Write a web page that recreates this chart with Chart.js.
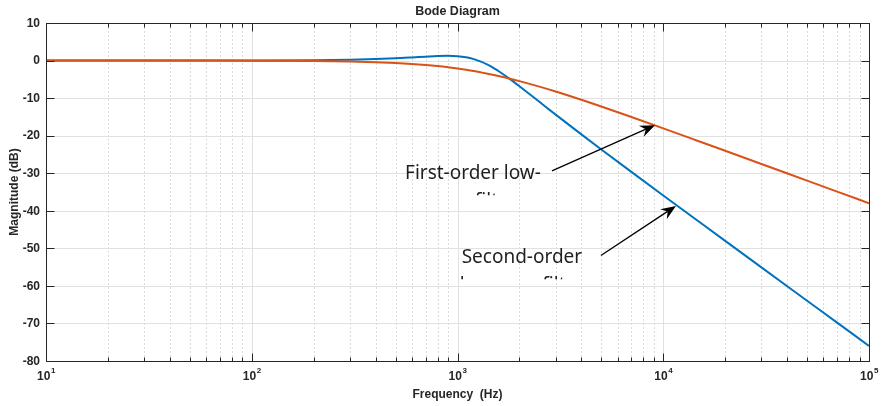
<!DOCTYPE html>
<html>
<head>
<meta charset="utf-8">
<title>Bode Diagram</title>
<script src="https://cdn.jsdelivr.net/npm/chart.js@4.4.1/dist/chart.umd.min.js"></script>
<style>
  html, body { margin: 0; padding: 0; background: #ffffff; }
  #wrap { width: 888px; height: 406px; }
</style>
</head>
<body>
<div id="wrap"><canvas id="bode" width="888" height="406"></canvas></div>
<script>
// Frequency samples (Hz) and magnitude responses (dB)
const freqHz = [10, 20, 50, 100, 200, 300, 400, 500, 600, 700, 800, 900, 1000, 1100, 1200,
  1300, 1400, 1500, 1600, 1800, 2000, 2500, 3000, 4000, 5000, 7000, 10000, 15000, 20000,
  30000, 50000, 70000, 100000];
const firstOrderDb = [0.00, 0.00, -0.01, -0.03, -0.11, -0.24, -0.42, -0.64, -0.89, -1.17,
  -1.47, -1.79, -2.12, -2.46, -2.80, -3.15, -3.49, -3.83, -4.17, -4.83, -5.47, -6.94,
  -8.24, -10.44, -12.24, -15.03, -18.06, -21.55, -24.03, -27.54, -31.98, -34.90, -37.99];
const secondOrderDb = [0.00, 0.00, 0.01, 0.03, 0.11, 0.24, 0.41, 0.62, 0.84, 1.04,
  1.20, 1.25, 1.15, 0.87, 0.38, -0.29, -1.11, -2.02, -2.98, -4.95, -6.84, -10.99,
  -14.39, -19.66, -23.68, -29.65, -35.92, -43.00, -48.01, -55.06, -63.94, -69.79, -75.99];

// Axis ticks
const yTickValues = [10, 0, -10, -20, -30, -40, -50, -60, -70, -80];
const xDecadeExponents = [1, 2, 3, 4, 5];
const minorMultipliers = [2, 3, 4, 5, 6, 7, 8, 9];

// Text callouts with arrows (anchor, tail and tip in data units: Hz, dB)
const calloutLines = [["First-order low-", "pass filter"], ["Second-order", "low-pass filter"]];
const calloutAnchorHz = [1189, 2056];
const calloutAnchorDb = [-31.6, -54.0];
const arrowTailHz = [2877, 4977];
const arrowTailDb = [-29.4, -51.9];
const arrowTipHz = [9120, 11530];
const arrowTipDb = [-17.2, -38.7];

const COLORS = {
  first: '#D95319',
  second: '#0072BD',
  axis: '#262626',
  majorGrid: '#e1e1e1',
  minorGrid: '#dadada',
  text: '#262626'
};
const AXIS_FONT = 'bold 12px "Liberation Sans", Arial, sans-serif';
const SUP_FONT = 'bold 8px "Liberation Sans", Arial, sans-serif';
const NOTE_FONT = '19px "Noto Sans", "Open Sans", sans-serif';

const crisp = v => Math.round(v) + 0.5;

const bodeFrame = {
  id: 'bodeFrame',
  beforeDatasetsDraw(chart) {
    const { ctx, chartArea: a, scales: { x, y } } = chart;
    ctx.save();
    ctx.lineWidth = 1;
    // minor vertical grid (dotted)
    ctx.strokeStyle = COLORS.minorGrid;
    ctx.setLineDash([2, 2]);
    xDecadeExponents.slice(0, -1).forEach(e => {
      minorMultipliers.forEach(m => {
        const px = crisp(x.getPixelForValue(m * Math.pow(10, e)));
        ctx.beginPath(); ctx.moveTo(px, a.top); ctx.lineTo(px, a.bottom); ctx.stroke();
      });
    });
    // major grid (solid)
    ctx.setLineDash([]);
    ctx.strokeStyle = COLORS.majorGrid;
    xDecadeExponents.forEach(e => {
      const px = crisp(x.getPixelForValue(Math.pow(10, e)));
      ctx.beginPath(); ctx.moveTo(px, a.top); ctx.lineTo(px, a.bottom); ctx.stroke();
    });
    yTickValues.forEach(v => {
      const py = crisp(y.getPixelForValue(v));
      ctx.beginPath(); ctx.moveTo(a.left, py); ctx.lineTo(a.right, py); ctx.stroke();
    });
    ctx.restore();
  },
  afterDatasetsDraw(chart) {
    const { ctx, chartArea: a, scales: { x, y } } = chart;
    const L = crisp(a.left), R = crisp(a.right), T = crisp(a.top), B = crisp(a.bottom);
    ctx.save();
    ctx.lineWidth = 1;
    ctx.strokeStyle = COLORS.axis;
    ctx.strokeRect(L, T, R - L, B - T);

    // ticks (inward, both sides)
    const majorLen = 8, minorLen = 4;
    ctx.beginPath();
    yTickValues.forEach(v => {
      const py = crisp(y.getPixelForValue(v));
      ctx.moveTo(L, py); ctx.lineTo(L + majorLen, py);
      ctx.moveTo(R, py); ctx.lineTo(R - majorLen, py);
    });
    xDecadeExponents.forEach((e, i) => {
      const px = crisp(x.getPixelForValue(Math.pow(10, e)));
      ctx.moveTo(px, B); ctx.lineTo(px, B - majorLen);
      ctx.moveTo(px, T); ctx.lineTo(px, T + majorLen);
      if (i < xDecadeExponents.length - 1) {
        minorMultipliers.forEach(m => {
          const mx = crisp(x.getPixelForValue(m * Math.pow(10, e)));
          ctx.moveTo(mx, B); ctx.lineTo(mx, B - minorLen);
          ctx.moveTo(mx, T); ctx.lineTo(mx, T + minorLen);
        });
      }
    });
    ctx.stroke();

    // y tick labels
    ctx.fillStyle = COLORS.text;
    ctx.font = AXIS_FONT;
    ctx.textAlign = 'right';
    ctx.textBaseline = 'middle';
    yTickValues.forEach(v => {
      ctx.fillText(String(v), a.left - 6, y.getPixelForValue(v) + 0.5);
    });

    // x tick labels: 10 with superscript exponent
    ctx.textBaseline = 'alphabetic';
    ctx.textAlign = 'left';
    xDecadeExponents.forEach(e => {
      const px = x.getPixelForValue(Math.pow(10, e));
      ctx.font = AXIS_FONT;
      const wBase = ctx.measureText('10').width;
      ctx.font = SUP_FONT;
      const wSup = ctx.measureText(String(e)).width;
      const start = px - (wBase + wSup) / 2;
      ctx.font = AXIS_FONT;
      ctx.fillText('10', start, a.bottom + 19);
      ctx.font = SUP_FONT;
      ctx.fillText(String(e), start + wBase + 0.5, a.bottom + 12);
    });

    // titles
    const cx = (a.left + a.right) / 2;
    ctx.font = 'bold 12.5px "Liberation Sans", Arial, sans-serif';
    ctx.textAlign = 'center';
    ctx.fillText('Bode Diagram', cx, 15);
    ctx.font = AXIS_FONT;
    ctx.fillText('Frequency  (Hz)', cx, a.bottom + 37);
    ctx.save();
    ctx.translate(17.5, (a.top + a.bottom) / 2);
    ctx.rotate(-Math.PI / 2);
    ctx.fillText('Magnitude (dB)', 0, 0);
    ctx.restore();

    // callout arrows
    ctx.strokeStyle = '#000000';
    ctx.fillStyle = '#000000';
    ctx.lineWidth = 1.3;
    arrowTipHz.forEach((_, i) => {
      const x0 = x.getPixelForValue(arrowTailHz[i]), y0 = y.getPixelForValue(arrowTailDb[i]);
      const x1 = x.getPixelForValue(arrowTipHz[i]), y1 = y.getPixelForValue(arrowTipDb[i]);
      const ang = Math.atan2(y1 - y0, x1 - x0);
      const headLen = 15, headHalf = 6, notch = 10;
      ctx.beginPath();
      ctx.moveTo(x0, y0);
      ctx.lineTo(x1 - notch * Math.cos(ang), y1 - notch * Math.sin(ang));
      ctx.stroke();
      ctx.save();
      ctx.translate(x1, y1);
      ctx.rotate(ang);
      ctx.beginPath();
      ctx.moveTo(0, 0);
      ctx.lineTo(-headLen, -headHalf);
      ctx.lineTo(-notch, 0);
      ctx.lineTo(-headLen, headHalf);
      ctx.closePath();
      ctx.fill();
      ctx.restore();
    });

    // callout text (second line cut off by the text box)
    ctx.font = NOTE_FONT;
    ctx.fillStyle = '#1f1f1f';
    ctx.textAlign = 'center';
    ctx.textBaseline = 'alphabetic';
    const lineGap = 28, clipBelow = 16;
    calloutLines.forEach((lines, i) => {
      const tx = x.getPixelForValue(calloutAnchorHz[i]);
      const ty = y.getPixelForValue(calloutAnchorDb[i]);
      ctx.save();
      ctx.beginPath();
      ctx.rect(tx - 120, ty - 30, 240, 30 + clipBelow);
      ctx.clip();
      lines.forEach((t, k) => ctx.fillText(t, tx, ty + k * lineGap));
      ctx.restore();
    });
    ctx.restore();
  }
};

const toPoints = vals => freqHz.map((f, i) => ({ x: f, y: vals[i] }));

new Chart(document.getElementById('bode'), {
  type: 'line',
  data: {
    datasets: [
      {
        label: 'First-order low-pass filter',
        data: toPoints(firstOrderDb),
        borderColor: COLORS.first,
        borderWidth: 2,
        pointRadius: 0,
        cubicInterpolationMode: 'monotone'
      },
      {
        label: 'Second-order low-pass filter',
        data: toPoints(secondOrderDb),
        borderColor: COLORS.second,
        borderWidth: 2,
        pointRadius: 0,
        cubicInterpolationMode: 'monotone'
      }
    ]
  },
  options: {
    responsive: false,
    devicePixelRatio: 1,
    animation: false,
    layout: { padding: { left: 46, right: 19, top: 23, bottom: 45 } },
    scales: {
      x: { type: 'logarithmic', min: 10, max: 100000, display: false },
      y: { type: 'linear', min: -80, max: 10, display: false }
    },
    plugins: { legend: { display: false }, tooltip: { enabled: false }, title: { display: false } }
  },
  plugins: [bodeFrame]
});
</script>
</body>
</html>
